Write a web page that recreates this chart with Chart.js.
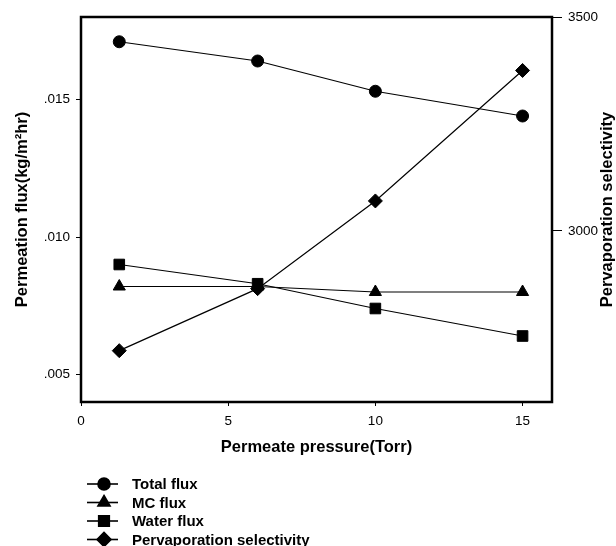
<!DOCTYPE html>
<html>
<head>
<meta charset="utf-8">
<script src="https://cdn.jsdelivr.net/npm/chart.js@4/dist/chart.umd.min.js"></script>
<style>
  html, body { margin: 0; padding: 0; background: #fff; }
  #wrap { width: 616px; height: 546px; }
</style>
</head>
<body>
<div id="wrap"><canvas id="chart" width="616" height="546"></canvas></div>
<script>
// data
const pressure = [1.3, 6, 10, 15];
const totalFlux = [0.0171, 0.0164, 0.0153, 0.0144];
const mcFlux = [0.0082, 0.0082, 0.0080, 0.0080];
const waterFlux = [0.0090, 0.0083, 0.0074, 0.0064];
const selectivity = [2720, 2865, 3070, 3375];

const xTicks = [0, 5, 10, 15];
const fluxTicks = [0.005, 0.010, 0.015];
const selTicks = [3000, 3500];

const FONT = "'Liberation Sans', Arial, sans-serif";

function pts(ys) {
  return pressure.map((x, i) => ({ x, y: ys[i] }));
}

function series(label, ys, style, radius, axis) {
  return {
    label,
    data: pts(ys),
    yAxisID: axis,
    borderColor: "#000",
    borderWidth: 1.2,
    pointStyle: style,
    pointRadius: radius,
    pointBackgroundColor: "#000",
    pointBorderColor: "#000",
    pointBorderWidth: 1,
    tension: 0
  };
}

// frame + right title + legend drawn after layout
const extras = {
  id: "extras",
  beforeDatasetsDraw(chart) {
    const { ctx, chartArea: a } = chart;
    ctx.save();
    ctx.strokeStyle = "#000";
    ctx.lineWidth = 2.5;
    ctx.strokeRect(a.left, a.top, a.right - a.left, a.bottom - a.top);
    ctx.restore();
  },
  afterDraw(chart) {
    const { ctx, chartArea: a } = chart;
    ctx.save();
    ctx.fillStyle = "#000";
    ctx.font = "bold 16.5px " + FONT;
    ctx.textAlign = "center";
    ctx.textBaseline = "middle";
    ctx.translate(607.5, (a.top + a.bottom) / 2);
    ctx.rotate(-Math.PI / 2);
    ctx.fillText("Pervaporation selectivity", 0, 0);
    ctx.restore();

    // legend
    const rows = [484, 502.5, 521, 539.5];
    ctx.save();
    chart.data.datasets.forEach((ds, i) => {
      const y = rows[i];
      ctx.strokeStyle = "#000";
      ctx.lineWidth = 1.6;
      ctx.beginPath();
      ctx.moveTo(87, y);
      ctx.lineTo(118, y);
      ctx.stroke();
      ctx.fillStyle = "#000";
      Chart.helpers.drawPoint(ctx, {
        pointStyle: ds.pointStyle,
        radius: ds.pointRadius,
        borderWidth: 1,
        rotation: 0
      }, 104, y);
      ctx.fill();
      ctx.font = "bold 15px " + FONT;
      ctx.textAlign = "left";
      ctx.textBaseline = "middle";
      ctx.fillText(ds.label, 132, y + 1);
    });
    ctx.restore();
  }
};

new Chart(document.getElementById("chart"), {
  type: "line",
  data: {
    datasets: [
      series("Total flux", totalFlux, "circle", 6, "y"),
      series("MC flux", mcFlux, "triangle", 7, "y"),
      series("Water flux", waterFlux, "rect", 7.5, "y"),
      series("Pervaporation selectivity", selectivity, "rectRot", 7, "y2")
    ]
  },
  options: {
    responsive: false,
    animation: false,
    layout: { padding: { top: 17, left: 0, right: 0, bottom: 0 } },
    plugins: { legend: { display: false }, tooltip: { enabled: false } },
    scales: {
      x: {
        type: "linear",
        min: 0,
        max: 16,
        afterFit: (s) => { s.height = 144; },
        afterBuildTicks: (s) => { s.ticks = xTicks.map((v) => ({ value: v })); },
        border: { display: false },
        grid: { drawOnChartArea: false, drawTicks: true, tickLength: 4, tickColor: "#000", lineWidth: 1 },
        ticks: { color: "#000", padding: 7, font: { family: FONT, size: 13.5 } },
        title: {
          display: true,
          text: "Permeate pressure(Torr)",
          color: "#000",
          font: { family: FONT, size: 16.5, weight: "bold" },
          padding: { top: 0, bottom: 89 }
        }
      },
      y: {
        position: "left",
        min: 0.004,
        max: 0.018,
        afterFit: (s) => { s.width = 81; },
        afterBuildTicks: (s) => { s.ticks = fluxTicks.map((v) => ({ value: v })); },
        border: { display: false },
        grid: { drawOnChartArea: false, drawTicks: true, tickLength: 5, tickColor: "#000", lineWidth: 1 },
        ticks: {
          color: "#000",
          padding: 6,
          font: { family: FONT, size: 13.5 },
          callback: (v) => v.toFixed(3).replace(/^0/, "")
        },
        title: {
          display: true,
          text: "Permeation flux(kg/m²hr)",
          color: "#000",
          font: { family: FONT, size: 16.5, weight: "bold" },
          padding: { top: 13, bottom: 0 }
        }
      },
      y2: {
        position: "right",
        min: 2600,
        max: 3500,
        afterFit: (s) => { s.width = 64; },
        afterBuildTicks: (s) => { s.ticks = selTicks.map((v) => ({ value: v })); },
        border: { display: false },
        grid: { drawOnChartArea: false, drawTicks: true, tickLength: 10, tickColor: "#000", lineWidth: 1 },
        ticks: {
          color: "#000",
          padding: 6,
          font: { family: FONT, size: 13.5 },
          callback: (v) => String(v)
        }
      }
    }
  },
  plugins: [extras]
});
</script>
</body>
</html>
